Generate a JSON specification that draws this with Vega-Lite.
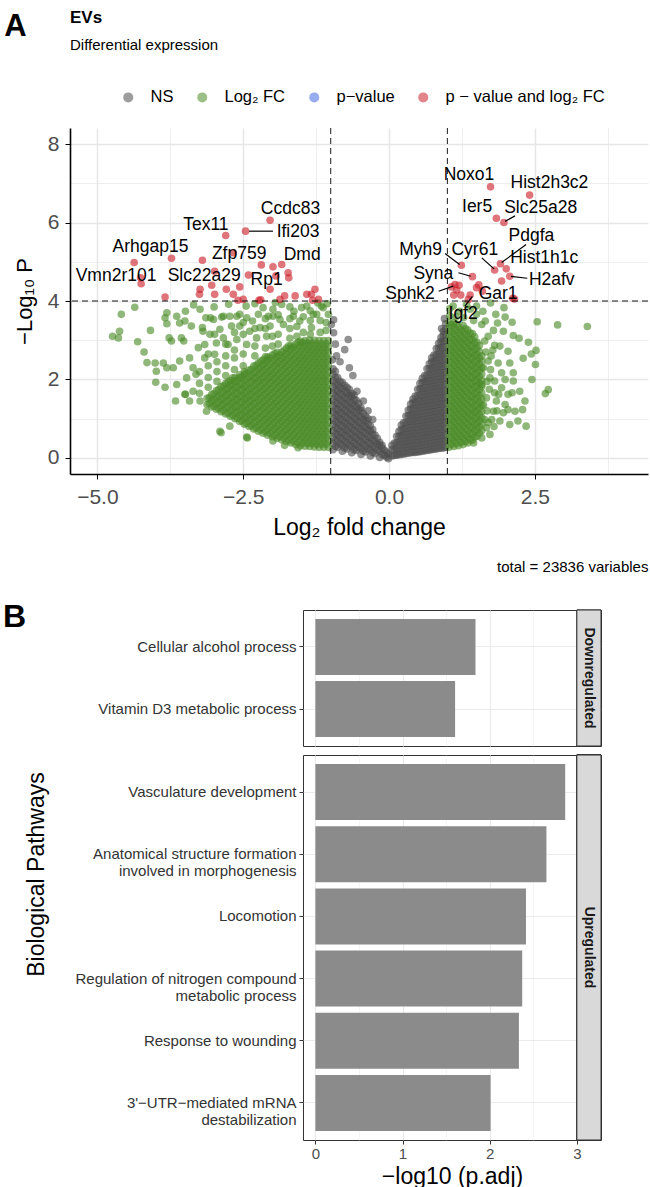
{
"$schema": "https://vega.github.io/schema/vega-lite/v6.json",
"padding": {"left": 3, "top": 8, "right": 3, "bottom": 3},
"config": {"font": "Liberation Sans", "view": {"stroke": null}},
"spacing": 26,
"vconcat": [
{
 "title": {"text": "A", "anchor": "start", "fontSize": 31, "fontWeight": "bold", "color": "#000", "offset": -34, "dx": -9},
 "vconcat": [
 {
  "title": {"text": "total = 23836 variables", "orient": "bottom", "anchor": "end", "fontSize": 15, "fontWeight": "normal", "color": "#000", "offset": 21},
  "vconcat": [
  {
   "width": 578, "height": 346,
   "title": {"text": "EVs", "subtitle": "Differential expression", "anchor": "start", "frame": "group", "fontSize": 17, "fontWeight": "bold", "color": "#000", "subtitleFontSize": 15, "subtitleColor": "#000", "subtitlePadding": 11, "offset": 74},
   "layer": [
    {
     "data": {"format": {"type": "csv", "parse": {"x": "number", "y": "number"}}, "values": "x,y,g\n-0.96,0.21,N\n-0.96,0.37,N\n-0.96,0.53,N\n-0.96,0.69,N\n-0.96,0.85,N\n-0.96,1.01,N\n-0.96,1.17,N\n-0.96,1.33,N\n-0.96,1.49,N\n-0.96,1.65,N\n-0.96,1.81,N\n-0.96,1.97,N\n-0.96,2.13,N\n-0.96,2.27,N\n-0.88,0.27,N\n-0.88,0.43,N\n-0.88,0.59,N\n-0.88,0.75,N\n-0.88,0.91,N\n-0.88,1.07,N\n-0.88,1.23,N\n-0.88,1.39,N\n-0.88,1.55,N\n-0.88,1.71,N\n-0.88,1.87,N\n-0.88,2.05,N\n-0.8,0.17,N\n-0.8,0.33,N\n-0.8,0.49,N\n-0.8,0.65,N\n-0.8,0.81,N\n-0.8,0.97,N\n-0.8,1.13,N\n-0.8,1.29,N\n-0.8,1.45,N\n-0.8,1.61,N\n-0.8,1.77,N\n-0.8,1.92,N\n-0.72,0.23,N\n-0.72,0.39,N\n-0.72,0.55,N\n-0.72,0.71,N\n-0.72,0.87,N\n-0.72,1.03,N\n-0.72,1.19,N\n-0.72,1.35,N\n-0.72,1.51,N\n-0.72,1.67,N\n-0.72,1.8,N\n-0.64,0.13,N\n-0.64,0.29,N\n-0.64,0.45,N\n-0.64,0.61,N\n-0.64,0.77,N\n-0.64,0.93,N\n-0.64,1.09,N\n-0.64,1.25,N\n-0.64,1.41,N\n-0.64,1.57,N\n-0.64,1.65,N\n-0.56,0.19,N\n-0.56,0.35,N\n-0.56,0.51,N\n-0.56,0.67,N\n-0.56,0.83,N\n-0.56,0.99,N\n-0.56,1.15,N\n-0.56,1.31,N\n-0.56,1.47,N\n-0.48,0.09,N\n-0.48,0.25,N\n-0.48,0.41,N\n-0.48,0.57,N\n-0.48,0.73,N\n-0.48,0.89,N\n-0.48,1.05,N\n-0.48,1.21,N\n-0.48,1.28,N\n-0.4,0.15,N\n-0.4,0.31,N\n-0.4,0.47,N\n-0.4,0.63,N\n-0.4,0.79,N\n-0.4,0.95,N\n-0.4,1.06,N\n-0.32,0.05,N\n-0.32,0.21,N\n-0.32,0.37,N\n-0.32,0.53,N\n-0.32,0.69,N\n-0.32,0.82,N\n-0.24,0.11,N\n-0.24,0.27,N\n-0.24,0.43,N\n-0.24,0.58,N\n-0.16,0.01,N\n-0.16,0.17,N\n-0.16,0.33,N\n-0.16,0.4,N\n-0.08,0.06,N\n-0.08,0.2,N\n-0.01,-0.02,N\n-0.01,0.1,N\n-0.92,0.29,N\n-0.92,0.45,N\n-0.92,0.61,N\n-0.92,0.77,N\n-0.92,0.93,N\n-0.92,1.09,N\n-0.92,1.25,N\n-0.92,1.41,N\n-0.92,1.57,N\n-0.92,1.73,N\n-0.92,1.89,N\n-0.92,2.05,N\n-0.92,2.21,N\n-0.84,0.35,N\n-0.84,0.51,N\n-0.84,0.67,N\n-0.84,0.83,N\n-0.84,0.99,N\n-0.84,1.15,N\n-0.84,1.31,N\n-0.84,1.47,N\n-0.84,1.63,N\n-0.84,1.79,N\n-0.84,1.95,N\n-0.76,0.25,N\n-0.76,0.41,N\n-0.76,0.57,N\n-0.76,0.73,N\n-0.76,0.89,N\n-0.76,1.05,N\n-0.76,1.21,N\n-0.76,1.37,N\n-0.76,1.53,N\n-0.76,1.69,N\n-0.76,1.85,N\n-0.68,0.31,N\n-0.68,0.47,N\n-0.68,0.63,N\n-0.68,0.79,N\n-0.68,0.95,N\n-0.68,1.11,N\n-0.68,1.27,N\n-0.68,1.43,N\n-0.68,1.59,N\n-0.68,1.75,N\n-0.6,0.21,N\n-0.6,0.37,N\n-0.6,0.53,N\n-0.6,0.69,N\n-0.6,0.85,N\n-0.6,1.01,N\n-0.6,1.17,N\n-0.6,1.33,N\n-0.6,1.49,N\n-0.6,1.6,N\n-0.52,0.27,N\n-0.52,0.43,N\n-0.52,0.59,N\n-0.52,0.75,N\n-0.52,0.91,N\n-0.52,1.07,N\n-0.52,1.23,N\n-0.52,1.39,N\n-0.44,0.17,N\n-0.44,0.33,N\n-0.44,0.49,N\n-0.44,0.65,N\n-0.44,0.81,N\n-0.44,0.97,N\n-0.44,1.13,N\n-0.36,0.23,N\n-0.36,0.39,N\n-0.36,0.55,N\n-0.36,0.71,N\n-0.36,0.87,N\n-0.36,1,N\n-0.28,0.13,N\n-0.28,0.29,N\n-0.28,0.45,N\n-0.28,0.61,N\n-0.28,0.72,N\n-0.2,0.19,N\n-0.2,0.35,N\n-0.2,0.5,N\n-0.12,0.09,N\n-0.12,0.25,N\n-0.12,0.32,N\n-0.04,0.02,N\n-0.04,0.15,N\n-0.99,3.4,N\n-0.95,3.19,N\n-0.7,3.02,N\n-0.92,2.9,N\n-0.76,2.76,N\n-0.9,2.6,N\n-0.84,2.45,N\n-0.97,2.5,N\n-0.62,2.1,N\n-0.68,2.3,N\n-0.55,1.7,N\n-0.44,1.45,N\n-0.36,1.2,N\n-0.28,0.98,N\n-0.95,3.52,N\n0.05,0.05,N\n0.05,0.21,N\n0.05,0.32,N\n0.13,0.07,N\n0.13,0.23,N\n0.13,0.39,N\n0.13,0.55,N\n0.21,0.09,N\n0.21,0.25,N\n0.21,0.41,N\n0.21,0.57,N\n0.21,0.73,N\n0.21,0.84,N\n0.29,0.11,N\n0.29,0.27,N\n0.29,0.43,N\n0.29,0.59,N\n0.29,0.75,N\n0.29,0.91,N\n0.29,1.07,N\n0.37,0.13,N\n0.37,0.29,N\n0.37,0.45,N\n0.37,0.61,N\n0.37,0.77,N\n0.37,0.93,N\n0.37,1.09,N\n0.37,1.25,N\n0.37,1.37,N\n0.45,0.14,N\n0.45,0.3,N\n0.45,0.46,N\n0.45,0.62,N\n0.45,0.78,N\n0.45,0.94,N\n0.45,1.1,N\n0.45,1.26,N\n0.45,1.42,N\n0.45,1.58,N\n0.53,0.16,N\n0.53,0.32,N\n0.53,0.48,N\n0.53,0.64,N\n0.53,0.8,N\n0.53,0.96,N\n0.53,1.12,N\n0.53,1.28,N\n0.53,1.44,N\n0.53,1.6,N\n0.53,1.76,N\n0.53,1.9,N\n0.61,0.18,N\n0.61,0.34,N\n0.61,0.5,N\n0.61,0.66,N\n0.61,0.82,N\n0.61,0.98,N\n0.61,1.14,N\n0.61,1.3,N\n0.61,1.46,N\n0.61,1.62,N\n0.61,1.78,N\n0.61,1.94,N\n0.61,2.1,N\n0.69,0.2,N\n0.69,0.36,N\n0.69,0.52,N\n0.69,0.68,N\n0.69,0.84,N\n0.69,1,N\n0.69,1.16,N\n0.69,1.32,N\n0.69,1.48,N\n0.69,1.64,N\n0.69,1.8,N\n0.69,1.96,N\n0.69,2.12,N\n0.69,2.28,N\n0.69,2.4,N\n0.77,0.22,N\n0.77,0.38,N\n0.77,0.54,N\n0.77,0.7,N\n0.77,0.86,N\n0.77,1.02,N\n0.77,1.18,N\n0.77,1.34,N\n0.77,1.5,N\n0.77,1.66,N\n0.77,1.82,N\n0.77,1.98,N\n0.77,2.14,N\n0.77,2.3,N\n0.77,2.46,N\n0.77,2.62,N\n0.85,0.24,N\n0.85,0.4,N\n0.85,0.56,N\n0.85,0.72,N\n0.85,0.88,N\n0.85,1.04,N\n0.85,1.2,N\n0.85,1.36,N\n0.85,1.52,N\n0.85,1.68,N\n0.85,1.84,N\n0.85,2,N\n0.85,2.16,N\n0.85,2.32,N\n0.85,2.48,N\n0.85,2.64,N\n0.85,2.8,N\n0.85,2.92,N\n0.93,0.25,N\n0.93,0.41,N\n0.93,0.57,N\n0.93,0.73,N\n0.93,0.89,N\n0.93,1.05,N\n0.93,1.21,N\n0.93,1.37,N\n0.93,1.53,N\n0.93,1.69,N\n0.93,1.85,N\n0.93,2.01,N\n0.93,2.17,N\n0.93,2.33,N\n0.93,2.49,N\n0.93,2.65,N\n0.93,2.81,N\n0.93,2.97,N\n0.93,3.13,N\n0.93,3.22,N\n0.09,0.06,N\n0.09,0.22,N\n0.09,0.38,N\n0.17,0.08,N\n0.17,0.24,N\n0.17,0.4,N\n0.17,0.56,N\n0.17,0.68,N\n0.25,0.1,N\n0.25,0.26,N\n0.25,0.42,N\n0.25,0.58,N\n0.25,0.74,N\n0.25,0.9,N\n0.33,0.12,N\n0.33,0.28,N\n0.33,0.44,N\n0.33,0.6,N\n0.33,0.76,N\n0.33,0.92,N\n0.33,1.08,N\n0.33,1.22,N\n0.41,0.14,N\n0.41,0.3,N\n0.41,0.46,N\n0.41,0.62,N\n0.41,0.78,N\n0.41,0.94,N\n0.41,1.1,N\n0.41,1.26,N\n0.41,1.42,N\n0.41,1.5,N\n0.49,0.15,N\n0.49,0.31,N\n0.49,0.47,N\n0.49,0.63,N\n0.49,0.79,N\n0.49,0.95,N\n0.49,1.11,N\n0.49,1.27,N\n0.49,1.43,N\n0.49,1.59,N\n0.49,1.75,N\n0.57,0.17,N\n0.57,0.33,N\n0.57,0.49,N\n0.57,0.65,N\n0.57,0.81,N\n0.57,0.97,N\n0.57,1.13,N\n0.57,1.29,N\n0.57,1.45,N\n0.57,1.61,N\n0.57,1.77,N\n0.57,1.93,N\n0.57,2.03,N\n0.65,0.19,N\n0.65,0.35,N\n0.65,0.51,N\n0.65,0.67,N\n0.65,0.83,N\n0.65,0.99,N\n0.65,1.15,N\n0.65,1.31,N\n0.65,1.47,N\n0.65,1.63,N\n0.65,1.79,N\n0.65,1.95,N\n0.65,2.11,N\n0.65,2.27,N\n0.73,0.21,N\n0.73,0.37,N\n0.73,0.53,N\n0.73,0.69,N\n0.73,0.85,N\n0.73,1.01,N\n0.73,1.17,N\n0.73,1.33,N\n0.73,1.49,N\n0.73,1.65,N\n0.73,1.81,N\n0.73,1.97,N\n0.73,2.13,N\n0.73,2.29,N\n0.73,2.45,N\n0.73,2.55,N\n0.81,0.23,N\n0.81,0.39,N\n0.81,0.55,N\n0.81,0.71,N\n0.81,0.87,N\n0.81,1.03,N\n0.81,1.19,N\n0.81,1.35,N\n0.81,1.51,N\n0.81,1.67,N\n0.81,1.83,N\n0.81,1.99,N\n0.81,2.15,N\n0.81,2.31,N\n0.81,2.47,N\n0.81,2.63,N\n0.81,2.79,N\n0.89,0.25,N\n0.89,0.41,N\n0.89,0.57,N\n0.89,0.73,N\n0.89,0.89,N\n0.89,1.05,N\n0.89,1.21,N\n0.89,1.37,N\n0.89,1.53,N\n0.89,1.69,N\n0.89,1.85,N\n0.89,2.01,N\n0.89,2.17,N\n0.89,2.33,N\n0.89,2.49,N\n0.89,2.65,N\n0.89,2.81,N\n0.89,2.97,N\n0.89,3.07,N\n0.97,0.27,N\n0.97,0.43,N\n0.97,0.59,N\n0.97,0.75,N\n0.97,0.91,N\n0.97,1.07,N\n0.97,1.23,N\n0.97,1.39,N\n0.97,1.55,N\n0.97,1.71,N\n0.97,1.87,N\n0.97,2.03,N\n0.97,2.19,N\n0.97,2.35,N\n0.97,2.51,N\n0.97,2.67,N\n0.97,2.83,N\n0.97,2.99,N\n0.97,3.15,N\n0.97,3.3,N\n0.97,3.42,N\n0.95,3.55,N\n0.9,3.3,N\n-1.04,0.27,F\n-1.04,0.43,F\n-1.04,0.59,F\n-1.04,0.75,F\n-1.04,0.91,F\n-1.04,1.07,F\n-1.04,1.23,F\n-1.04,1.39,F\n-1.04,1.55,F\n-1.04,1.71,F\n-1.04,1.87,F\n-1.04,2.03,F\n-1.04,2.19,F\n-1.04,2.35,F\n-1.04,2.51,F\n-1.04,2.67,F\n-1.04,2.83,F\n-1.04,2.99,F\n-1.12,0.27,F\n-1.12,0.43,F\n-1.12,0.59,F\n-1.12,0.75,F\n-1.12,0.91,F\n-1.12,1.07,F\n-1.12,1.23,F\n-1.12,1.39,F\n-1.12,1.55,F\n-1.12,1.71,F\n-1.12,1.87,F\n-1.12,2.03,F\n-1.12,2.19,F\n-1.12,2.35,F\n-1.12,2.51,F\n-1.12,2.67,F\n-1.12,2.83,F\n-1.12,2.99,F\n-1.2,0.27,F\n-1.2,0.43,F\n-1.2,0.59,F\n-1.2,0.75,F\n-1.2,0.91,F\n-1.2,1.07,F\n-1.2,1.23,F\n-1.2,1.39,F\n-1.2,1.55,F\n-1.2,1.71,F\n-1.2,1.87,F\n-1.2,2.03,F\n-1.2,2.19,F\n-1.2,2.35,F\n-1.2,2.51,F\n-1.2,2.67,F\n-1.2,2.83,F\n-1.2,2.99,F\n-1.28,0.28,F\n-1.28,0.44,F\n-1.28,0.6,F\n-1.28,0.76,F\n-1.28,0.92,F\n-1.28,1.08,F\n-1.28,1.24,F\n-1.28,1.4,F\n-1.28,1.56,F\n-1.28,1.72,F\n-1.28,1.88,F\n-1.28,2.04,F\n-1.28,2.2,F\n-1.28,2.36,F\n-1.28,2.52,F\n-1.28,2.68,F\n-1.28,2.84,F\n-1.28,3,F\n-1.36,0.29,F\n-1.36,0.45,F\n-1.36,0.61,F\n-1.36,0.77,F\n-1.36,0.93,F\n-1.36,1.09,F\n-1.36,1.25,F\n-1.36,1.41,F\n-1.36,1.57,F\n-1.36,1.73,F\n-1.36,1.89,F\n-1.36,2.05,F\n-1.36,2.21,F\n-1.36,2.37,F\n-1.36,2.53,F\n-1.36,2.69,F\n-1.36,2.85,F\n-1.36,3,F\n-1.44,0.3,F\n-1.44,0.46,F\n-1.44,0.62,F\n-1.44,0.78,F\n-1.44,0.94,F\n-1.44,1.1,F\n-1.44,1.26,F\n-1.44,1.42,F\n-1.44,1.58,F\n-1.44,1.74,F\n-1.44,1.9,F\n-1.44,2.06,F\n-1.44,2.22,F\n-1.44,2.38,F\n-1.44,2.54,F\n-1.44,2.7,F\n-1.44,2.86,F\n-1.44,2.99,F\n-1.52,0.31,F\n-1.52,0.47,F\n-1.52,0.63,F\n-1.52,0.79,F\n-1.52,0.95,F\n-1.52,1.11,F\n-1.52,1.27,F\n-1.52,1.43,F\n-1.52,1.59,F\n-1.52,1.75,F\n-1.52,1.91,F\n-1.52,2.07,F\n-1.52,2.23,F\n-1.52,2.39,F\n-1.52,2.55,F\n-1.52,2.71,F\n-1.52,2.87,F\n-1.52,2.97,F\n-1.6,0.34,F\n-1.6,0.5,F\n-1.6,0.66,F\n-1.6,0.82,F\n-1.6,0.98,F\n-1.6,1.14,F\n-1.6,1.3,F\n-1.6,1.46,F\n-1.6,1.62,F\n-1.6,1.78,F\n-1.6,1.94,F\n-1.6,2.1,F\n-1.6,2.26,F\n-1.6,2.42,F\n-1.6,2.58,F\n-1.6,2.74,F\n-1.6,2.9,F\n-1.68,0.38,F\n-1.68,0.54,F\n-1.68,0.7,F\n-1.68,0.86,F\n-1.68,1.02,F\n-1.68,1.18,F\n-1.68,1.34,F\n-1.68,1.5,F\n-1.68,1.66,F\n-1.68,1.82,F\n-1.68,1.98,F\n-1.68,2.14,F\n-1.68,2.3,F\n-1.68,2.46,F\n-1.68,2.62,F\n-1.68,2.78,F\n-1.68,2.86,F\n-1.76,0.42,F\n-1.76,0.58,F\n-1.76,0.74,F\n-1.76,0.9,F\n-1.76,1.06,F\n-1.76,1.22,F\n-1.76,1.38,F\n-1.76,1.54,F\n-1.76,1.7,F\n-1.76,1.86,F\n-1.76,2.02,F\n-1.76,2.18,F\n-1.76,2.34,F\n-1.76,2.5,F\n-1.76,2.66,F\n-1.76,2.8,F\n-1.84,0.46,F\n-1.84,0.62,F\n-1.84,0.78,F\n-1.84,0.94,F\n-1.84,1.1,F\n-1.84,1.26,F\n-1.84,1.42,F\n-1.84,1.58,F\n-1.84,1.74,F\n-1.84,1.9,F\n-1.84,2.06,F\n-1.84,2.22,F\n-1.84,2.38,F\n-1.84,2.54,F\n-1.84,2.7,F\n-1.92,0.5,F\n-1.92,0.66,F\n-1.92,0.82,F\n-1.92,0.98,F\n-1.92,1.14,F\n-1.92,1.3,F\n-1.92,1.46,F\n-1.92,1.62,F\n-1.92,1.78,F\n-1.92,1.94,F\n-1.92,2.1,F\n-1.92,2.26,F\n-1.92,2.42,F\n-1.92,2.58,F\n-1.92,2.69,F\n-2,0.54,F\n-2,0.7,F\n-2,0.86,F\n-2,1.02,F\n-2,1.18,F\n-2,1.34,F\n-2,1.5,F\n-2,1.66,F\n-2,1.82,F\n-2,1.98,F\n-2,2.14,F\n-2,2.3,F\n-2,2.46,F\n-2,2.62,F\n-2.08,0.58,F\n-2.08,0.74,F\n-2.08,0.9,F\n-2.08,1.06,F\n-2.08,1.22,F\n-2.08,1.38,F\n-2.08,1.54,F\n-2.08,1.7,F\n-2.08,1.86,F\n-2.08,2.02,F\n-2.08,2.18,F\n-2.08,2.34,F\n-2.08,2.5,F\n-2.08,2.58,F\n-2.16,0.63,F\n-2.16,0.79,F\n-2.16,0.95,F\n-2.16,1.11,F\n-2.16,1.27,F\n-2.16,1.43,F\n-2.16,1.59,F\n-2.16,1.75,F\n-2.16,1.91,F\n-2.16,2.07,F\n-2.16,2.23,F\n-2.16,2.39,F\n-2.16,2.5,F\n-2.24,0.68,F\n-2.24,0.84,F\n-2.24,1,F\n-2.24,1.16,F\n-2.24,1.32,F\n-2.24,1.48,F\n-2.24,1.64,F\n-2.24,1.8,F\n-2.24,1.96,F\n-2.24,2.12,F\n-2.24,2.28,F\n-2.24,2.42,F\n-2.32,0.74,F\n-2.32,0.9,F\n-2.32,1.06,F\n-2.32,1.22,F\n-2.32,1.38,F\n-2.32,1.54,F\n-2.32,1.7,F\n-2.32,1.86,F\n-2.32,2.02,F\n-2.32,2.18,F\n-2.32,2.34,F\n-2.4,0.8,F\n-2.4,0.96,F\n-2.4,1.12,F\n-2.4,1.28,F\n-2.4,1.44,F\n-2.4,1.6,F\n-2.4,1.76,F\n-2.4,1.92,F\n-2.4,2.08,F\n-2.4,2.24,F\n-2.48,0.86,F\n-2.48,1.02,F\n-2.48,1.18,F\n-2.48,1.34,F\n-2.48,1.5,F\n-2.48,1.66,F\n-2.48,1.82,F\n-2.48,1.98,F\n-2.48,2.14,F\n-2.48,2.2,F\n-2.56,0.93,F\n-2.56,1.09,F\n-2.56,1.25,F\n-2.56,1.41,F\n-2.56,1.57,F\n-2.56,1.73,F\n-2.56,1.89,F\n-2.56,2.05,F\n-2.56,2.12,F\n-2.64,1,F\n-2.64,1.16,F\n-2.64,1.32,F\n-2.64,1.48,F\n-2.64,1.64,F\n-2.64,1.8,F\n-2.64,1.96,F\n-2.64,2.04,F\n-2.72,1.06,F\n-2.72,1.22,F\n-2.72,1.38,F\n-2.72,1.54,F\n-2.72,1.7,F\n-2.72,1.86,F\n-2.72,1.97,F\n-2.8,1.12,F\n-2.8,1.28,F\n-2.8,1.44,F\n-2.8,1.6,F\n-2.8,1.76,F\n-2.8,1.9,F\n-2.88,1.18,F\n-2.88,1.34,F\n-2.88,1.5,F\n-2.88,1.66,F\n-2.88,1.82,F\n-2.96,1.24,F\n-2.96,1.4,F\n-2.96,1.56,F\n-2.96,1.72,F\n-3.04,1.3,F\n-3.04,1.46,F\n-3.04,1.62,F\n-3.12,1.36,F\n-3.12,1.52,F\n-1.08,0.35,F\n-1.08,0.51,F\n-1.08,0.67,F\n-1.08,0.83,F\n-1.08,0.99,F\n-1.08,1.15,F\n-1.08,1.31,F\n-1.08,1.47,F\n-1.08,1.63,F\n-1.08,1.79,F\n-1.08,1.95,F\n-1.08,2.11,F\n-1.08,2.27,F\n-1.08,2.43,F\n-1.08,2.59,F\n-1.08,2.75,F\n-1.08,2.91,F\n-1.16,0.35,F\n-1.16,0.51,F\n-1.16,0.67,F\n-1.16,0.83,F\n-1.16,0.99,F\n-1.16,1.15,F\n-1.16,1.31,F\n-1.16,1.47,F\n-1.16,1.63,F\n-1.16,1.79,F\n-1.16,1.95,F\n-1.16,2.11,F\n-1.16,2.27,F\n-1.16,2.43,F\n-1.16,2.59,F\n-1.16,2.75,F\n-1.16,2.91,F\n-1.24,0.35,F\n-1.24,0.51,F\n-1.24,0.67,F\n-1.24,0.83,F\n-1.24,0.99,F\n-1.24,1.15,F\n-1.24,1.31,F\n-1.24,1.47,F\n-1.24,1.63,F\n-1.24,1.79,F\n-1.24,1.95,F\n-1.24,2.11,F\n-1.24,2.27,F\n-1.24,2.43,F\n-1.24,2.59,F\n-1.24,2.75,F\n-1.24,2.91,F\n-1.32,0.36,F\n-1.32,0.52,F\n-1.32,0.68,F\n-1.32,0.84,F\n-1.32,1,F\n-1.32,1.16,F\n-1.32,1.32,F\n-1.32,1.48,F\n-1.32,1.64,F\n-1.32,1.8,F\n-1.32,1.96,F\n-1.32,2.12,F\n-1.32,2.28,F\n-1.32,2.44,F\n-1.32,2.6,F\n-1.32,2.76,F\n-1.32,2.92,F\n-1.4,0.37,F\n-1.4,0.53,F\n-1.4,0.69,F\n-1.4,0.85,F\n-1.4,1.01,F\n-1.4,1.17,F\n-1.4,1.33,F\n-1.4,1.49,F\n-1.4,1.65,F\n-1.4,1.81,F\n-1.4,1.97,F\n-1.4,2.13,F\n-1.4,2.29,F\n-1.4,2.45,F\n-1.4,2.61,F\n-1.4,2.77,F\n-1.4,2.93,F\n-1.48,0.38,F\n-1.48,0.54,F\n-1.48,0.7,F\n-1.48,0.86,F\n-1.48,1.02,F\n-1.48,1.18,F\n-1.48,1.34,F\n-1.48,1.5,F\n-1.48,1.66,F\n-1.48,1.82,F\n-1.48,1.98,F\n-1.48,2.14,F\n-1.48,2.3,F\n-1.48,2.46,F\n-1.48,2.62,F\n-1.48,2.78,F\n-1.48,2.94,F\n-1.56,0.39,F\n-1.56,0.55,F\n-1.56,0.71,F\n-1.56,0.87,F\n-1.56,1.03,F\n-1.56,1.19,F\n-1.56,1.35,F\n-1.56,1.51,F\n-1.56,1.67,F\n-1.56,1.83,F\n-1.56,1.99,F\n-1.56,2.15,F\n-1.56,2.31,F\n-1.56,2.47,F\n-1.56,2.63,F\n-1.56,2.79,F\n-1.56,2.95,F\n-1.64,0.42,F\n-1.64,0.58,F\n-1.64,0.74,F\n-1.64,0.9,F\n-1.64,1.06,F\n-1.64,1.22,F\n-1.64,1.38,F\n-1.64,1.54,F\n-1.64,1.7,F\n-1.64,1.86,F\n-1.64,2.02,F\n-1.64,2.18,F\n-1.64,2.34,F\n-1.64,2.5,F\n-1.64,2.66,F\n-1.64,2.82,F\n-1.72,0.46,F\n-1.72,0.62,F\n-1.72,0.78,F\n-1.72,0.94,F\n-1.72,1.1,F\n-1.72,1.26,F\n-1.72,1.42,F\n-1.72,1.58,F\n-1.72,1.74,F\n-1.72,1.9,F\n-1.72,2.06,F\n-1.72,2.22,F\n-1.72,2.38,F\n-1.72,2.54,F\n-1.72,2.7,F\n-1.72,2.86,F\n-1.8,0.5,F\n-1.8,0.66,F\n-1.8,0.82,F\n-1.8,0.98,F\n-1.8,1.14,F\n-1.8,1.3,F\n-1.8,1.46,F\n-1.8,1.62,F\n-1.8,1.78,F\n-1.8,1.94,F\n-1.8,2.1,F\n-1.8,2.26,F\n-1.8,2.42,F\n-1.8,2.58,F\n-1.8,2.74,F\n-1.88,0.54,F\n-1.88,0.7,F\n-1.88,0.86,F\n-1.88,1.02,F\n-1.88,1.18,F\n-1.88,1.34,F\n-1.88,1.5,F\n-1.88,1.66,F\n-1.88,1.82,F\n-1.88,1.98,F\n-1.88,2.14,F\n-1.88,2.3,F\n-1.88,2.46,F\n-1.88,2.62,F\n-1.96,0.58,F\n-1.96,0.74,F\n-1.96,0.9,F\n-1.96,1.06,F\n-1.96,1.22,F\n-1.96,1.38,F\n-1.96,1.54,F\n-1.96,1.7,F\n-1.96,1.86,F\n-1.96,2.02,F\n-1.96,2.18,F\n-1.96,2.34,F\n-1.96,2.5,F\n-1.96,2.66,F\n-2.04,0.62,F\n-2.04,0.78,F\n-2.04,0.94,F\n-2.04,1.1,F\n-2.04,1.26,F\n-2.04,1.42,F\n-2.04,1.58,F\n-2.04,1.74,F\n-2.04,1.9,F\n-2.04,2.06,F\n-2.04,2.22,F\n-2.04,2.38,F\n-2.04,2.54,F\n-2.12,0.66,F\n-2.12,0.82,F\n-2.12,0.98,F\n-2.12,1.14,F\n-2.12,1.3,F\n-2.12,1.46,F\n-2.12,1.62,F\n-2.12,1.78,F\n-2.12,1.94,F\n-2.12,2.1,F\n-2.12,2.26,F\n-2.12,2.42,F\n-2.12,2.58,F\n-2.2,0.71,F\n-2.2,0.87,F\n-2.2,1.03,F\n-2.2,1.19,F\n-2.2,1.35,F\n-2.2,1.51,F\n-2.2,1.67,F\n-2.2,1.83,F\n-2.2,1.99,F\n-2.2,2.15,F\n-2.2,2.31,F\n-2.2,2.47,F\n-2.28,0.76,F\n-2.28,0.92,F\n-2.28,1.08,F\n-2.28,1.24,F\n-2.28,1.4,F\n-2.28,1.56,F\n-2.28,1.72,F\n-2.28,1.88,F\n-2.28,2.04,F\n-2.28,2.2,F\n-2.28,2.36,F\n-2.36,0.82,F\n-2.36,0.98,F\n-2.36,1.14,F\n-2.36,1.3,F\n-2.36,1.46,F\n-2.36,1.62,F\n-2.36,1.78,F\n-2.36,1.94,F\n-2.36,2.1,F\n-2.36,2.26,F\n-2.44,0.88,F\n-2.44,1.04,F\n-2.44,1.2,F\n-2.44,1.36,F\n-2.44,1.52,F\n-2.44,1.68,F\n-2.44,1.84,F\n-2.44,2,F\n-2.44,2.16,F\n-2.52,0.94,F\n-2.52,1.1,F\n-2.52,1.26,F\n-2.52,1.42,F\n-2.52,1.58,F\n-2.52,1.74,F\n-2.52,1.9,F\n-2.52,2.06,F\n-2.6,1.01,F\n-2.6,1.17,F\n-2.6,1.33,F\n-2.6,1.49,F\n-2.6,1.65,F\n-2.6,1.81,F\n-2.6,1.97,F\n-2.68,1.08,F\n-2.68,1.24,F\n-2.68,1.4,F\n-2.68,1.56,F\n-2.68,1.72,F\n-2.68,1.88,F\n-2.68,2.04,F\n-2.76,1.14,F\n-2.76,1.3,F\n-2.76,1.46,F\n-2.76,1.62,F\n-2.76,1.78,F\n-2.76,1.94,F\n-2.84,1.2,F\n-2.84,1.36,F\n-2.84,1.52,F\n-2.84,1.68,F\n-2.84,1.84,F\n-2.92,1.26,F\n-2.92,1.42,F\n-2.92,1.58,F\n-2.92,1.74,F\n-3,1.32,F\n-3,1.48,F\n-3,1.64,F\n-3.08,1.38,F\n-3.08,1.54,F\n-4.74,3.1,F\n-4.64,3.06,F\n-4.59,3.66,F\n-4.62,3.23,F\n-4.36,3.84,F\n-4.31,2.96,F\n-4.09,3.25,F\n-4.2,2.7,F\n-4.15,2.43,F\n-4.01,2.42,F\n-4,1.93,F\n-3.84,1.8,F\n-3.99,2.21,F\n-3.84,3.57,F\n-3.81,3.7,F\n-3.77,3.06,F\n-3.66,1.45,F\n-3.7,2.3,F\n-3.59,3.44,F\n-3.52,2.98,F\n-3.49,3.74,F\n-3.42,2.55,F\n-3.31,2.13,F\n-3.24,3.79,F\n-3.2,3.32,F\n-3.16,2.89,F\n-3.06,3.57,F\n-2.99,3.15,F\n-2.84,3.61,F\n-2.7,3.36,F\n-2.56,3.66,F\n-2.45,3.87,F\n-2.34,3.49,F\n-2.16,3.83,F\n-1.99,3.61,F\n-1.84,3.91,F\n-1.63,3.74,F\n-1.41,3.87,F\n-1.24,3.66,F\n-1.13,3.83,F\n-2.88,0.64,F\n-2.43,0.51,F\n-3.13,1.19,F\n-3.49,1.62,F\n-3.42,1.45,F\n-3.81,3.42,F\n-3.64,3.61,F\n-3.73,2.98,F\n-3.56,3.06,F\n-3.5,3.49,F\n-3.39,3.36,F\n-3.59,2.47,F\n-3.81,2.3,F\n-3.87,2.42,F\n-3.14,3.57,F\n-3.01,3.53,F\n-2.87,3.59,F\n-2.73,3.61,F\n-2.61,3.61,F\n-2.44,3.57,F\n-2.24,3.66,F\n-2.07,3.61,F\n-1.99,3.79,F\n-1.87,3.53,F\n-1.64,3.61,F\n-1.5,3.83,F\n-1.3,3.66,F\n-1.16,3.87,F\n-1.04,3.66,F\n-3.19,3.23,F\n-3.07,3.15,F\n-2.9,3.28,F\n-2.96,2.93,F\n-3.27,2.81,F\n-3.16,2.55,F\n-2.99,2.64,F\n-2.76,2.89,F\n-2.84,3.06,F\n-2.56,3.36,F\n-2.39,3.23,F\n-2.21,3.32,F\n-2.04,3.36,F\n-1.81,3.4,F\n-1.53,3.49,F\n-1.33,3.32,F\n-2.61,3.02,F\n-2.44,2.89,F\n-2.27,3.06,F\n-2.1,3.1,F\n-3.36,2.3,F\n-3.47,2.04,F\n-3.64,1.87,F\n-3.5,1.62,F\n-3.36,1.7,F\n-3.24,1.45,F\n-2.9,0.68,F\n-2.73,0.81,F\n-2.44,0.53,F\n-1.99,0.43,F\n-1.79,0.32,F\n-1.56,0.26,F\n-1.08,3.25,F\n-1.08,3.45,F\n-1.18,3.2,F\n-1.18,3.5,F\n-1.35,3.15,F\n-1.35,3.5,F\n-1.35,3.75,F\n-1.47,3.2,F\n-1.47,3.6,F\n-1.58,3.1,F\n-1.58,3.35,F\n-1.7,3.05,F\n-1.7,3.3,F\n-1.7,3.55,F\n-1.7,3.85,F\n-1.9,2.9,F\n-1.9,3.15,F\n-1.9,3.65,F\n-2,2.85,F\n-2,3.1,F\n-2.12,2.8,F\n-2.12,3.3,F\n-2.12,3.55,F\n-2.3,2.6,F\n-2.3,2.85,F\n-2.3,3.3,F\n-2.5,2.35,F\n-2.5,2.65,F\n-2.5,3.15,F\n-2.5,3.45,F\n-2.65,2.25,F\n-2.65,2.55,F\n-2.65,2.75,F\n-2.65,3.2,F\n-2.8,2.1,F\n-2.8,2.35,F\n-2.8,2.6,F\n-2.8,2.9,F\n-2.95,1.95,F\n-2.95,2.2,F\n-2.95,2.45,F\n-3.1,1.8,F\n-3.1,2.05,F\n-3.1,2.35,F\n-3.1,2.65,F\n-3.25,1.65,F\n-3.25,1.9,F\n-3.25,2.2,F\n-1.06,3.93,F\n-1.22,3.95,F\n-1.95,3.96,F\n-2.3,3.93,F\n-2.75,3.92,F\n-3,3.85,F\n-3.35,3.9,F\n1.03,0.27,F\n1.03,0.43,F\n1.03,0.59,F\n1.03,0.75,F\n1.03,0.91,F\n1.03,1.07,F\n1.03,1.23,F\n1.03,1.39,F\n1.03,1.55,F\n1.03,1.71,F\n1.03,1.87,F\n1.03,2.03,F\n1.03,2.19,F\n1.03,2.35,F\n1.03,2.51,F\n1.03,2.67,F\n1.03,2.83,F\n1.03,2.99,F\n1.03,3.15,F\n1.03,3.31,F\n1.03,3.45,F\n1.11,0.29,F\n1.11,0.45,F\n1.11,0.61,F\n1.11,0.77,F\n1.11,0.93,F\n1.11,1.09,F\n1.11,1.25,F\n1.11,1.41,F\n1.11,1.57,F\n1.11,1.73,F\n1.11,1.89,F\n1.11,2.05,F\n1.11,2.21,F\n1.11,2.37,F\n1.11,2.53,F\n1.11,2.69,F\n1.11,2.85,F\n1.11,3.01,F\n1.11,3.17,F\n1.11,3.33,F\n1.11,3.45,F\n1.19,0.31,F\n1.19,0.47,F\n1.19,0.63,F\n1.19,0.79,F\n1.19,0.95,F\n1.19,1.11,F\n1.19,1.27,F\n1.19,1.43,F\n1.19,1.59,F\n1.19,1.75,F\n1.19,1.91,F\n1.19,2.07,F\n1.19,2.23,F\n1.19,2.39,F\n1.19,2.55,F\n1.19,2.71,F\n1.19,2.87,F\n1.19,3.03,F\n1.19,3.19,F\n1.19,3.35,F\n1.27,0.34,F\n1.27,0.5,F\n1.27,0.66,F\n1.27,0.82,F\n1.27,0.98,F\n1.27,1.14,F\n1.27,1.3,F\n1.27,1.46,F\n1.27,1.62,F\n1.27,1.78,F\n1.27,1.94,F\n1.27,2.1,F\n1.27,2.26,F\n1.27,2.42,F\n1.27,2.58,F\n1.27,2.74,F\n1.27,2.9,F\n1.27,3.06,F\n1.27,3.22,F\n1.27,3.38,F\n1.35,0.38,F\n1.35,0.54,F\n1.35,0.7,F\n1.35,0.86,F\n1.35,1.02,F\n1.35,1.18,F\n1.35,1.34,F\n1.35,1.5,F\n1.35,1.66,F\n1.35,1.82,F\n1.35,1.98,F\n1.35,2.14,F\n1.35,2.3,F\n1.35,2.46,F\n1.35,2.62,F\n1.35,2.78,F\n1.35,2.94,F\n1.35,3.1,F\n1.35,3.26,F\n1.43,0.45,F\n1.43,0.61,F\n1.43,0.77,F\n1.43,0.93,F\n1.43,1.09,F\n1.43,1.25,F\n1.43,1.41,F\n1.43,1.57,F\n1.43,1.73,F\n1.43,1.89,F\n1.43,2.05,F\n1.43,2.21,F\n1.43,2.37,F\n1.43,2.53,F\n1.43,2.69,F\n1.43,2.85,F\n1.43,3.01,F\n1.43,3.17,F\n1.51,0.55,F\n1.51,0.71,F\n1.51,0.87,F\n1.51,1.03,F\n1.51,1.19,F\n1.51,1.35,F\n1.51,1.51,F\n1.51,1.67,F\n1.51,1.83,F\n1.51,1.99,F\n1.51,2.15,F\n1.51,2.31,F\n1.51,2.47,F\n1.51,2.63,F\n1.51,2.79,F\n1.51,2.95,F\n1.59,0.7,F\n1.59,0.86,F\n1.59,1.02,F\n1.59,1.18,F\n1.59,1.34,F\n1.59,1.5,F\n1.59,1.66,F\n1.59,1.82,F\n1.59,1.98,F\n1.59,2.14,F\n1.59,2.3,F\n1.59,2.46,F\n1.59,2.6,F\n1.07,0.35,F\n1.07,0.51,F\n1.07,0.67,F\n1.07,0.83,F\n1.07,0.99,F\n1.07,1.15,F\n1.07,1.31,F\n1.07,1.47,F\n1.07,1.63,F\n1.07,1.79,F\n1.07,1.95,F\n1.07,2.11,F\n1.07,2.27,F\n1.07,2.43,F\n1.07,2.59,F\n1.07,2.75,F\n1.07,2.91,F\n1.07,3.07,F\n1.07,3.23,F\n1.07,3.39,F\n1.15,0.37,F\n1.15,0.53,F\n1.15,0.69,F\n1.15,0.85,F\n1.15,1.01,F\n1.15,1.17,F\n1.15,1.33,F\n1.15,1.49,F\n1.15,1.65,F\n1.15,1.81,F\n1.15,1.97,F\n1.15,2.13,F\n1.15,2.29,F\n1.15,2.45,F\n1.15,2.61,F\n1.15,2.77,F\n1.15,2.93,F\n1.15,3.09,F\n1.15,3.25,F\n1.15,3.41,F\n1.23,0.39,F\n1.23,0.55,F\n1.23,0.71,F\n1.23,0.87,F\n1.23,1.03,F\n1.23,1.19,F\n1.23,1.35,F\n1.23,1.51,F\n1.23,1.67,F\n1.23,1.83,F\n1.23,1.99,F\n1.23,2.15,F\n1.23,2.31,F\n1.23,2.47,F\n1.23,2.63,F\n1.23,2.79,F\n1.23,2.95,F\n1.23,3.11,F\n1.23,3.27,F\n1.31,0.42,F\n1.31,0.58,F\n1.31,0.74,F\n1.31,0.9,F\n1.31,1.06,F\n1.31,1.22,F\n1.31,1.38,F\n1.31,1.54,F\n1.31,1.7,F\n1.31,1.86,F\n1.31,2.02,F\n1.31,2.18,F\n1.31,2.34,F\n1.31,2.5,F\n1.31,2.66,F\n1.31,2.82,F\n1.31,2.98,F\n1.31,3.14,F\n1.31,3.3,F\n1.39,0.46,F\n1.39,0.62,F\n1.39,0.78,F\n1.39,0.94,F\n1.39,1.1,F\n1.39,1.26,F\n1.39,1.42,F\n1.39,1.58,F\n1.39,1.74,F\n1.39,1.9,F\n1.39,2.06,F\n1.39,2.22,F\n1.39,2.38,F\n1.39,2.54,F\n1.39,2.7,F\n1.39,2.86,F\n1.39,3.02,F\n1.39,3.18,F\n1.47,0.53,F\n1.47,0.69,F\n1.47,0.85,F\n1.47,1.01,F\n1.47,1.17,F\n1.47,1.33,F\n1.47,1.49,F\n1.47,1.65,F\n1.47,1.81,F\n1.47,1.97,F\n1.47,2.13,F\n1.47,2.29,F\n1.47,2.45,F\n1.47,2.61,F\n1.47,2.77,F\n1.47,2.93,F\n1.47,3.09,F\n1.55,0.63,F\n1.55,0.79,F\n1.55,0.95,F\n1.55,1.11,F\n1.55,1.27,F\n1.55,1.43,F\n1.55,1.59,F\n1.55,1.75,F\n1.55,1.91,F\n1.55,2.07,F\n1.55,2.23,F\n1.55,2.39,F\n1.55,2.55,F\n1.55,2.71,F\n1.55,2.87,F\n1.74,3.95,F\n1.97,3.83,F\n1.99,3.59,F\n2.11,3.46,F\n2.54,3.47,F\n2.89,3.39,F\n3.4,3.35,F\n1.86,3.44,F\n1.79,3.25,F\n1.96,3.23,F\n2.13,3.12,F\n2.23,3.05,F\n2.39,2.95,F\n2.52,2.74,F\n2.44,2.65,F\n2.3,2.54,F\n2.51,2.38,F\n2.04,2.72,F\n1.9,2.85,F\n1.81,2.87,F\n2.07,2.42,F\n2.13,2.17,F\n2.13,1.96,F\n2.45,2,F\n2.24,1.7,F\n2.11,1.66,F\n2.73,1.74,F\n2.68,1.64,F\n2.33,1.45,F\n2.29,1.23,F\n2.16,1.19,F\n2.35,0.81,F\n2.21,0.94,F\n2.07,0.85,F\n1.9,0.94,F\n1.93,1.79,F\n1.93,2.17,F\n1.87,2.42,F\n1.81,1.96,F\n1.84,1.45,F\n1.79,1.19,F\n1.67,0.77,F\n1.73,0.6,F\n1.64,0.98,F\n1.99,1.36,F\n2.04,1.23,F\n1.96,1.15,F\n1.45,0.38,F\n1.59,0.51,F\n1.76,0.98,F\n1.67,1.53,F\n1.73,2.04,F\n1.7,2.47,F\n1.64,2.98,F\n1.59,3.4,F\n1.65,3.49,F\n1.5,3.66,F\n1.39,3.79,F\n1.21,3.74,F\n1.1,3.87,F\n1.33,3.91,F\n1.5,3.87,F\n1.61,3.74,F\n1.83,3.66,F\n1.59,1.87,F\n1.62,2.3,F\n1.81,1.66,F\n1.99,2,F\n2.04,1.62,F\n1.68,1.2,F\n1.72,1.75,F\n1.66,2.7,F\n1.74,2.25,F\n1.7,3.1,F\n1.75,2.6,F\n1.68,1.95,F\n1.62,1.35,F\n1.7,0.9,F\n1.04,3.62,F\n1.15,3.6,F\n1.28,3.58,F\n1.45,3.5,F\n1.04,3.8,F\n1.85,1.2,F\n1.88,1.62,F\n1.78,2.75,F\n1.8,0.8,F\n-2.04,6.06,B\n-2.46,5.78,B\n-2.8,5.67,B\n-3.73,5.09,B\n-3.2,5.04,B\n-4.37,4.98,B\n-4.26,4.59,B\n-4.25,4.44,B\n-2.67,5.23,B\n-2.99,4.76,B\n-3.04,4.4,B\n-3.24,4.3,B\n-3.25,4.17,B\n-2.99,4.17,B\n-2.79,4.3,B\n-2.56,4.36,B\n-2.67,4.17,B\n-2.41,4.66,B\n-2.19,4.92,B\n-1.99,4.87,B\n-1.84,4.93,B\n-1.94,4.64,B\n-1.73,4.72,B\n-1.72,4.59,B\n-2.04,4.3,B\n-2.23,4.02,B\n-1.79,4.13,B\n-1.61,4.13,B\n-1.41,4.17,B\n-1.27,4.3,B\n-1.33,4.17,B\n-1.21,4.04,B\n-3.84,4.1,B\n-2.5,4.04,B\n-1.87,4.04,B\n-2.59,4.02,B\n-2.2,4.03,B\n-1.31,4.02,B\n1.74,6.91,B\n2.41,6.7,B\n1.84,6.11,B\n1.97,6,B\n1.91,4.95,B\n1.81,4.79,B\n2.01,4.82,B\n2.07,4.63,B\n1.93,4.51,B\n1.24,4.91,B\n1.43,4.62,B\n1.13,4.42,B\n1.2,4.4,B\n1.54,4.41,B\n1.5,4.34,B\n1.07,4.36,B\n1.11,4.15,B\n1.23,4.15,B\n1.39,4.15,B\n2.12,4.07,B\n1.36,4.04,B\n1.16,4.28,B\n1.6,4.25,B\n2.15,4.05,B"},
     "mark": {"type": "circle", "size": 58, "opacity": 0.62},
     "encoding": {
      "x": {"field": "x", "type": "quantitative", "scale": {"domain": [-5.47, 4.44], "nice": false, "zero": false},
       "axis": {"title": "Log₂ fold change", "values": [-5, -3.75, -2.5, -1.25, 0, 1.25, 2.5, 3.75],
        "labelExpr": "abs(datum.value % 2.5) < 0.01 ? replace(format(datum.value, '.1f'), '-', '−') : ''",
        "grid": true, "gridColor": "#e6e6e6",
        "gridWidth": {"condition": {"test": "abs(datum.value % 2.5) < 0.01", "value": 1.5}, "value": 0.7},
        "tickOpacity": {"condition": {"test": "abs(datum.value % 2.5) < 0.01", "value": 1}, "value": 0},
        "domainColor": "#000", "domainWidth": 1.6, "tickColor": "#000", "tickWidth": 1, "tickSize": 5,
        "labelFontSize": 21, "labelColor": "#4d4d4d", "labelPadding": 7,
        "titleFontSize": 23, "titleFontWeight": "normal", "titleColor": "#000", "titlePadding": 9}},
      "y": {"field": "y", "type": "quantitative", "scale": {"domain": [-0.41, 8.41], "nice": false, "zero": false},
       "axis": {"title": "−Log₁₀ P", "values": [0, 1, 2, 3, 4, 5, 6, 7, 8],
        "labelExpr": "datum.value % 2 == 0 ? datum.label : ''",
        "grid": true, "gridColor": "#e6e6e6",
        "gridWidth": {"condition": {"test": "datum.value % 2 == 0", "value": 1.5}, "value": 0.7},
        "tickOpacity": {"condition": {"test": "datum.value % 2 == 0", "value": 1}, "value": 0},
        "domainColor": "#000", "domainWidth": 1.6, "tickColor": "#000", "tickWidth": 1, "tickSize": 5,
        "labelFontSize": 21, "labelColor": "#4d4d4d", "labelPadding": 6,
        "titleFontSize": 22, "titleFontWeight": "normal", "titleColor": "#000", "titlePadding": 11}},
      "color": {"field": "g", "type": "nominal",
       "scale": {"domain": ["N", "F", "P", "B"], "range": ["#4d4d4d", "#4a8a26", "#4169e1", "#cc1f2a"]},
       "legend": {"title": null, "orient": "none", "legendX": 50, "legendY": -39, "direction": "horizontal",
        "labelExpr": "datum.value == 'N' ? 'NS' : datum.value == 'F' ? 'Log₂ FC' : datum.value == 'P' ? 'p−value' : 'p − value and log₂ FC'",
        "symbolType": "circle", "symbolSize": 100, "symbolOpacity": 0.55, "symbolStrokeWidth": 0,
        "labelFontSize": 16.5, "labelColor": "#000", "labelOffset": 14, "columnPadding": 20}}
     }
    },
    {
     "data": {"values": [{"v": -1}, {"v": 1}]},
     "mark": {"type": "rule", "strokeDash": [6, 4], "color": "#000", "strokeWidth": 0.9},
     "encoding": {"x": {"field": "v", "type": "quantitative", "scale": {"domain": [-5.47, 4.44], "nice": false, "zero": false}}}
    },
    {
     "data": {"values": [{"v": 4}]},
     "mark": {"type": "rule", "strokeDash": [6, 4], "color": "#000", "strokeWidth": 0.9},
     "encoding": {"y": {"field": "v", "type": "quantitative", "scale": {"domain": [-0.41, 8.41], "nice": false, "zero": false}}}
    },
    {
     "data": {"values": [
      {"x": -2.40, "y": 5.78, "x2": -1.99, "y2": 5.78},
      {"x": 1.99, "y": 6.03, "x2": 2.16, "y2": 6.17},
      {"x": 1.93, "y": 4.98, "x2": 2.35, "y2": 5.44},
      {"x": 1.59, "y": 5.10, "x2": 1.80, "y2": 4.82},
      {"x": 0.96, "y": 5.21, "x2": 1.21, "y2": 4.93},
      {"x": 1.19, "y": 4.72, "x2": 1.40, "y2": 4.63},
      {"x": 2.09, "y": 4.63, "x2": 2.37, "y2": 4.58},
      {"x": 0.85, "y": 4.25, "x2": 1.10, "y2": 4.38},
      {"x": 1.30, "y": 3.87, "x2": 1.43, "y2": 4.12}
     ]},
     "mark": {"type": "rule", "color": "#000", "strokeWidth": 1.2},
     "encoding": {
      "x": {"field": "x", "type": "quantitative", "scale": {"domain": [-5.47, 4.44], "nice": false, "zero": false}},
      "y": {"field": "y", "type": "quantitative", "scale": {"domain": [-0.41, 8.41], "nice": false, "zero": false}},
      "x2": {"field": "x2"}, "y2": {"field": "y2"}
     }
    },
    {
     "data": {"values": [
      {"gene": "Ccdc83", "lx": -1.69, "ly": 6.34},
      {"gene": "Ifi203", "lx": -1.56, "ly": 5.76},
      {"gene": "Tex11", "lx": -3.14, "ly": 5.95},
      {"gene": "Arhgap15", "lx": -4.09, "ly": 5.38},
      {"gene": "Zfp759", "lx": -2.57, "ly": 5.19},
      {"gene": "Dmd", "lx": -1.49, "ly": 5.17},
      {"gene": "Vmn2r101", "lx": -4.68, "ly": 4.64},
      {"gene": "Slc22a29", "lx": -3.17, "ly": 4.64},
      {"gene": "Rp1", "lx": -2.10, "ly": 4.53},
      {"gene": "Noxo1", "lx": 1.37, "ly": 7.21},
      {"gene": "Hist2h3c2", "lx": 2.75, "ly": 7.02},
      {"gene": "Ier5", "lx": 1.51, "ly": 6.40},
      {"gene": "Slc25a28", "lx": 2.60, "ly": 6.38},
      {"gene": "Pdgfa", "lx": 2.44, "ly": 5.66},
      {"gene": "Myh9", "lx": 0.54, "ly": 5.29},
      {"gene": "Cyr61", "lx": 1.47, "ly": 5.29},
      {"gene": "Hist1h1c", "lx": 2.66, "ly": 5.10},
      {"gene": "Syna", "lx": 0.76, "ly": 4.70},
      {"gene": "H2afv", "lx": 2.79, "ly": 4.53},
      {"gene": "Sphk2", "lx": 0.36, "ly": 4.18},
      {"gene": "Gar1", "lx": 1.87, "ly": 4.18},
      {"gene": "Igf2", "lx": 1.27, "ly": 3.66}
     ]},
     "mark": {"type": "text", "fontSize": 17.5, "color": "#000"},
     "encoding": {
      "x": {"field": "lx", "type": "quantitative", "scale": {"domain": [-5.47, 4.44], "nice": false, "zero": false}},
      "y": {"field": "ly", "type": "quantitative", "scale": {"domain": [-0.41, 8.41], "nice": false, "zero": false}},
      "text": {"field": "gene"}
     }
    }
   ]
  }
  ]
 }
 ]
},
{
 "title": {"text": "B", "anchor": "start", "fontSize": 32, "fontWeight": "bold", "color": "#000", "offset": -25, "dx": -22},
 "spacing": 0,
 "hconcat": [
  {
   "width": 1, "height": 528,
   "data": {"values": [{"v": 0}]},
   "mark": {"type": "point", "opacity": 0},
   "encoding": {
    "y": {"field": "v", "type": "quantitative", "scale": {"domain": [0, 1]},
     "axis": {"title": "Biological Pathways", "labels": false, "ticks": false, "domain": false, "grid": false,
      "titleFontSize": 23, "titleFontWeight": "normal", "titleColor": "#000", "titlePadding": 22}}
   }
  },
  {
   "spacing": 7,
   "vconcat": [
    {
     "data": {"values": [
      {"dir": "Downregulated", "term": "Cellular alcohol process", "v": 1.837},
      {"dir": "Downregulated", "term": "Vitamin D3 metabolic process", "v": 1.603}
     ]},
     "width": 298, "height": 136,
     "view": {"stroke": "#333", "strokeWidth": 1},
     "layer": [
      {
       "mark": {"type": "bar", "color": "#8b8b8b"},
       "encoding": {
        "x": {"field": "v", "type": "quantitative", "scale": {"domain": [-0.142, 3.277], "nice": false, "zero": false},
         "axis": {"title": null, "values": [0, 0.5, 1, 1.5, 2, 2.5, 3], "labels": false, "ticks": false, "domain": false,
          "grid": true, "gridColor": "#ebebeb",
          "gridWidth": {"condition": {"test": "datum.value % 1 == 0", "value": 1.1}, "value": 0.5}}},
        "y": {"field": "term", "type": "nominal", "sort": "-x", "scale": {"paddingInner": 0.1, "paddingOuter": 0.145},
         "axis": {"title": null,
          "labelExpr": "split(datum.label, '|')", "labelFontSize": 15, "labelColor": "#333", "labelLimit": 400, "labelLineHeight": 17,
          "tickColor": "#333", "tickSize": 4, "grid": true, "gridColor": "#ebebeb", "gridWidth": 1.1, "domain": false, "labelPadding": 3, "bandPosition": 0.5}}
       }
      },
      {
       "mark": {"type": "rect", "fill": "#d9d9d9", "stroke": "#333", "strokeWidth": 1},
       "encoding": {"x": {"datum": 3.0}, "x2": {"datum": 3.277}}
      },
      {
       "transform": [{"aggregate": [{"op": "count", "as": "n"}], "groupby": ["dir"]}],
       "mark": {"type": "text", "angle": 90, "fontSize": 14, "fontWeight": "bold", "color": "#1a1a1a"},
       "encoding": {"x": {"datum": 3.1385}, "text": {"field": "dir"}}
      }
     ]
    },
    {
     "data": {"values": [
      {"dir": "Upregulated", "term": "Vasculature development", "v": 2.866},
      {"dir": "Upregulated", "term": "Anatomical structure formation|involved in morphogenesis", "v": 2.651},
      {"dir": "Upregulated", "term": "Locomotion", "v": 2.416},
      {"dir": "Upregulated", "term": "Regulation of nitrogen compound|metabolic process", "v": 2.373},
      {"dir": "Upregulated", "term": "Response to wounding", "v": 2.335},
      {"dir": "Upregulated", "term": "3'−UTR−mediated mRNA|destabilization", "v": 2.01}
     ]},
     "width": 298, "height": 385,
     "view": {"stroke": "#333", "strokeWidth": 1},
     "layer": [
      {
       "mark": {"type": "bar", "color": "#8b8b8b"},
       "encoding": {
        "x": {"field": "v", "type": "quantitative", "scale": {"domain": [-0.142, 3.277], "nice": false, "zero": false},
         "axis": {"title": "−log10 (p.adj)", "values": [0, 0.5, 1, 1.5, 2, 2.5, 3],
          "labelExpr": "datum.value % 1 == 0 ? format(datum.value, 'd') : ''",
          "grid": true, "gridColor": "#ebebeb",
          "gridWidth": {"condition": {"test": "datum.value % 1 == 0", "value": 1.1}, "value": 0.5},
          "tickOpacity": {"condition": {"test": "datum.value % 1 == 0", "value": 1}, "value": 0},
          "domain": false, "tickColor": "#333", "tickSize": 4, "labelFontSize": 15, "labelColor": "#4d4d4d",
          "titleFontSize": 23, "titleFontWeight": "normal", "titleColor": "#000", "titlePadding": 4}},
        "y": {"field": "term", "type": "nominal", "sort": "-x", "scale": {"paddingInner": 0.1, "paddingOuter": 0.145},
         "axis": {"title": null,
          "labelExpr": "split(datum.label, '|')", "labelFontSize": 15, "labelColor": "#333", "labelLimit": 400, "labelLineHeight": 17,
          "tickColor": "#333", "tickSize": 4, "grid": true, "gridColor": "#ebebeb", "gridWidth": 1.1, "domain": false, "labelPadding": 3, "bandPosition": 0.5}}
       }
      },
      {
       "mark": {"type": "rect", "fill": "#d9d9d9", "stroke": "#333", "strokeWidth": 1},
       "encoding": {"x": {"datum": 3.0}, "x2": {"datum": 3.277}}
      },
      {
       "transform": [{"aggregate": [{"op": "count", "as": "n"}], "groupby": ["dir"]}],
       "mark": {"type": "text", "angle": 90, "fontSize": 14, "fontWeight": "bold", "color": "#1a1a1a"},
       "encoding": {"x": {"datum": 3.1385}, "text": {"field": "dir"}}
      }
     ]
    }
   ]
  }
 ]
}
]
}
